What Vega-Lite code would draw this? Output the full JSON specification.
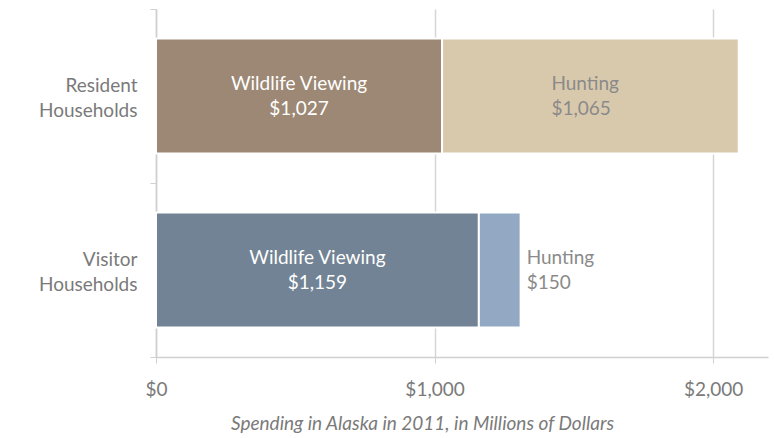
{
  "$schema": "https://vega.github.io/schema/vega-lite/v6.json",
  "width": 612,
  "height": 348,
  "autosize": "none",
  "padding": {"left": 156, "top": 9, "right": 6, "bottom": 81},
  "background": "white",
  "config": {
    "font": "Lato",
    "view": {"stroke": null}
  },
  "data": {
    "values": [
      {"household": "Resident Households", "activity": "Wildlife Viewing", "amount": 1027},
      {"household": "Resident Households", "activity": "Hunting", "amount": 1065},
      {"household": "Visitor Households", "activity": "Wildlife Viewing", "amount": 1159},
      {"household": "Visitor Households", "activity": "Hunting", "amount": 150}
    ]
  },
  "encoding": {
    "y": {
      "field": "household",
      "type": "nominal",
      "sort": ["Resident Households", "Visitor Households"],
      "scale": {"paddingInner": 0, "paddingOuter": 0},
      "axis": {
        "title": null,
        "tickBand": "extent",
        "labelExpr": "split(datum.label, ' ')",
        "labelLineHeight": 25,
        "labelFontSize": 19,
        "labelColor": "#7a7a7a",
        "labelPadding": 13,
        "labelOffset": -11,
        "tickSize": 6,
        "tickColor": "#d0d0d0",
        "domainColor": "#d0d0d0",
        "domainWidth": 1.5,
        "grid": false
      }
    },
    "detail": {"field": "activity"},
    "order": {"field": "activity", "sort": "descending"}
  },
  "layer": [
    {
      "mark": {"type": "bar", "height": {"band": 0.66}, "stroke": "white", "strokeWidth": 2},
      "encoding": {
        "x": {
          "field": "amount",
          "type": "quantitative",
          "stack": "zero",
          "scale": {"domain": [0, 2197], "nice": false},
          "axis": {
            "values": [0, 1000, 2000],
            "format": "$,d",
            "labelFlush": false,
            "title": "Spending in Alaska in 2011, in Millions of Dollars",
            "titleFontStyle": "italic",
            "titleFontWeight": "normal",
            "titleFontSize": 19,
            "titleColor": "#7a7a7a",
            "titleAnchor": "start",
            "titleAlign": "center",
            "titleX": 266,
            "titleY": 66,
            "titleBaseline": "middle",
            "labelFontSize": 19,
            "labelColor": "#7a7a7a",
            "labelPadding": 17,
            "tickSize": 6,
            "tickColor": "#d0d0d0",
            "domainColor": "#d0d0d0",
            "domainWidth": 1.5,
            "grid": true,
            "gridColor": "#d6d6d6",
            "gridWidth": 1.5
          }
        },
        "color": {
          "condition": [
            {"test": "datum.household === 'Resident Households' && datum.activity === 'Wildlife Viewing'", "value": "#9c8874"},
            {"test": "datum.household === 'Resident Households' && datum.activity === 'Hunting'", "value": "#d9c9ac"},
            {"test": "datum.household === 'Visitor Households' && datum.activity === 'Wildlife Viewing'", "value": "#718394"}
          ],
          "value": "#93a9c3"
        }
      }
    },
    {
      "mark": {"type": "text", "align": "center", "baseline": "middle", "dy": -12, "fontSize": 19, "color": "#ffffff"},
      "encoding": {
        "x": {"field": "amount", "type": "quantitative", "stack": "zero", "bandPosition": 0.5},
        "text": {"condition": {"test": "datum.activity === 'Wildlife Viewing'", "field": "activity"}, "value": ""}
      }
    },
    {
      "mark": {"type": "text", "align": "center", "baseline": "middle", "dy": 13, "fontSize": 19, "color": "#ffffff"},
      "encoding": {
        "x": {"field": "amount", "type": "quantitative", "stack": "zero", "bandPosition": 0.5},
        "text": {"condition": {"test": "datum.activity === 'Wildlife Viewing'", "field": "amount", "format": "$,d"}, "value": ""}
      }
    },
    {
      "mark": {"type": "text", "align": "left", "baseline": "middle", "dx": -39, "dy": -12, "fontSize": 19, "color": "#8a8a8a"},
      "encoding": {
        "x": {"field": "amount", "type": "quantitative", "stack": "zero", "bandPosition": 0.5},
        "text": {"condition": {"test": "datum.household === 'Resident Households' && datum.activity === 'Hunting'", "field": "activity"}, "value": ""}
      }
    },
    {
      "mark": {"type": "text", "align": "left", "baseline": "middle", "dx": -39, "dy": 13, "fontSize": 19, "color": "#8a8a8a"},
      "encoding": {
        "x": {"field": "amount", "type": "quantitative", "stack": "zero", "bandPosition": 0.5},
        "text": {"condition": {"test": "datum.household === 'Resident Households' && datum.activity === 'Hunting'", "field": "amount", "format": "$,d"}, "value": ""}
      }
    },
    {
      "mark": {"type": "text", "align": "left", "baseline": "middle", "dx": 6, "dy": -12, "fontSize": 19, "color": "#8a8a8a"},
      "encoding": {
        "x": {"field": "amount", "type": "quantitative", "stack": "zero", "bandPosition": 1},
        "text": {"condition": {"test": "datum.household === 'Visitor Households' && datum.activity === 'Hunting'", "field": "activity"}, "value": ""}
      }
    },
    {
      "mark": {"type": "text", "align": "left", "baseline": "middle", "dx": 6, "dy": 13, "fontSize": 19, "color": "#8a8a8a"},
      "encoding": {
        "x": {"field": "amount", "type": "quantitative", "stack": "zero", "bandPosition": 1},
        "text": {"condition": {"test": "datum.household === 'Visitor Households' && datum.activity === 'Hunting'", "field": "amount", "format": "$,d"}, "value": ""}
      }
    }
  ]
}
